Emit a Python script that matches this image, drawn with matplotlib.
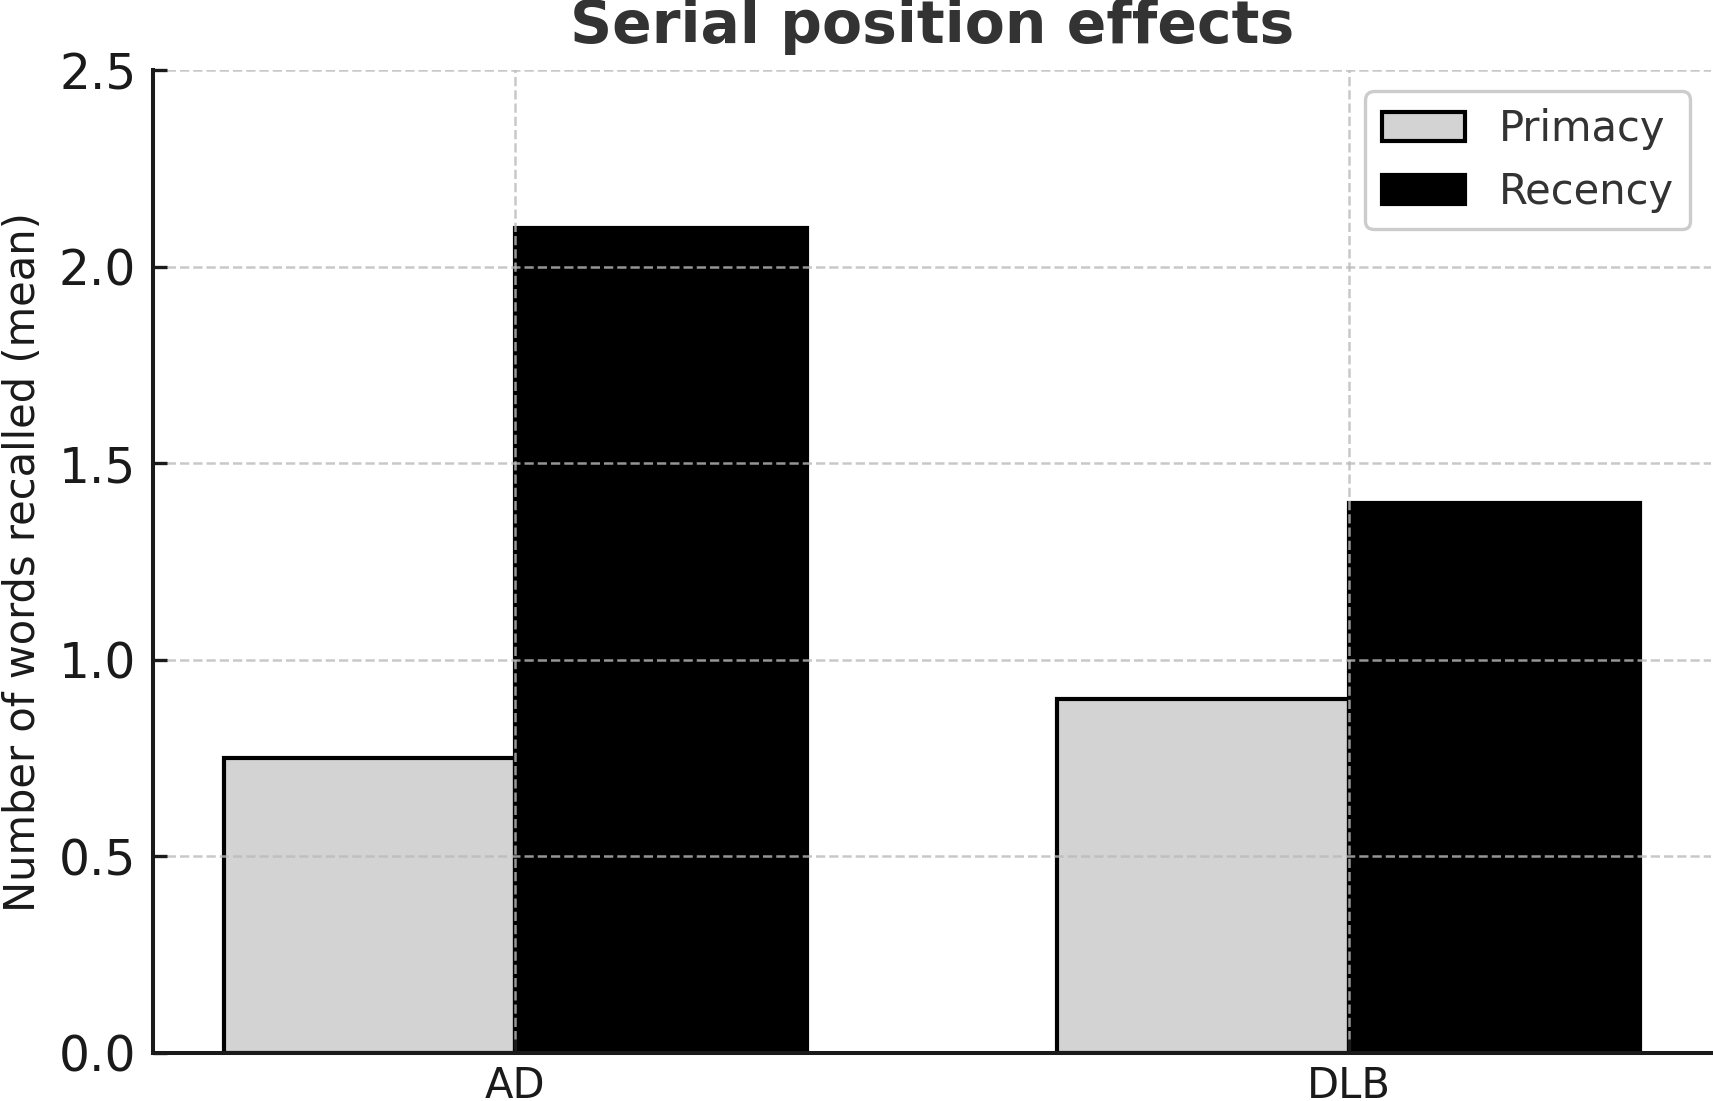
import matplotlib
matplotlib.use("Agg")
import matplotlib.pyplot as plt
import numpy as np

groups = ["AD", "DLB"]
primacy = [0.75, 0.90]
recency = [2.10, 1.40]
series_labels = ["Primacy", "Recency"]
yticks = [0.0, 0.5, 1.0, 1.5, 2.0, 2.5]

plt.rcParams['font.family'] = ['DejaVu Sans']

fig = plt.figure(figsize=(17.13, 11.01), dpi=100)
ax = fig.add_axes([0.0893, 0.0436, 0.9097, 0.8924])

x = np.arange(len(groups))
w = 0.35
ax.bar(x - w, primacy, w, align='edge', color='#d3d3d3', edgecolor='black',
       linewidth=3.0, label=series_labels[0], zorder=1)
ax.bar(x, recency, w, align='edge', color='black', edgecolor='black',
       linewidth=3.0, label=series_labels[1], zorder=1)

ax.set_xticks(x)
ax.set_xticklabels(groups)
ax.set_yticks(yticks)
ax.set_ylim(0, 2.5)

ax.set_axisbelow(False)
ax.grid(True, linestyle='--', color='#bbbbbb', alpha=0.8, linewidth=1.8, zorder=2)

for s in ['top', 'right']:
    ax.spines[s].set_visible(False)
for s in ['left', 'bottom']:
    ax.spines[s].set_linewidth(2.9)
    ax.spines[s].set_color('#1a1a1a')
    ax.spines[s].set_zorder(3)

ax.tick_params(axis='both', direction='in', length=10, width=2.4,
               color='#1a1a1a', labelsize=35, labelcolor='#1a1a1a', pad=12)
ax.tick_params(axis='x', pad=9, labelsize=30)

ax.set_ylabel("Number of words recalled (mean)", fontsize=30, color='#1a1a1a',
              labelpad=11)
ax.set_title("Serial position effects", fontsize=42, fontweight='bold',
             color='#333333', pad=20)

leg = ax.legend(loc='upper right', fontsize=30, frameon=True, fancybox=True,
                framealpha=1.0)
leg.get_frame().set_edgecolor('#cccccc')
leg.get_frame().set_linewidth(2.4)
leg.legend_handles[0].set_linewidth(3.0)
for t in leg.get_texts():
    t.set_color('#333333')

fig.savefig("out.png", dpi=100)
